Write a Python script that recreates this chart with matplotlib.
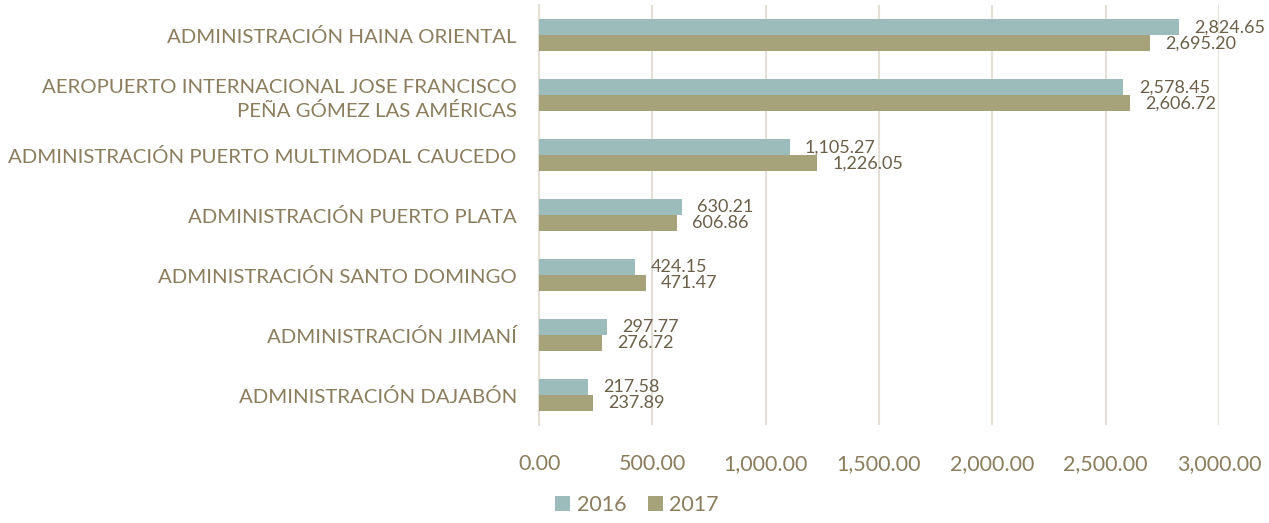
import matplotlib.pyplot as plt
import numpy as np

categories = [
    "ADMINISTRACIÓN HAINA ORIENTAL",
    "AEROPUERTO INTERNACIONAL JOSE FRANCISCO\nPEÑA GÓMEZ LAS AMÉRICAS",
    "ADMINISTRACIÓN PUERTO MULTIMODAL CAUCEDO",
    "ADMINISTRACIÓN PUERTO PLATA",
    "ADMINISTRACIÓN SANTO DOMINGO",
    "ADMINISTRACIÓN JIMANÍ",
    "ADMINISTRACIÓN DAJABÓN",
]
values_2016 = [2824.65, 2578.45, 1105.27, 630.21, 424.15, 297.77, 217.58]
values_2017 = [2695.20, 2606.72, 1226.05, 606.86, 471.47, 276.72, 237.89]
x_ticks = [0, 500, 1000, 1500, 2000, 2500, 3000]

plt.rcParams['font.family'] = ['Lato', 'DejaVu Sans']

C16 = '#9bbcbb'
C17 = '#a6a27a'
TXT = '#8b7d5e'
LBL = '#6b5f4a'
GRID = '#e4e0d8'

fig = plt.figure(figsize=(12.69, 5.23), dpi=100)
ax = fig.add_axes([0.4248, 0.1874, 0.5358, 0.8026])

n = len(categories)
y = np.arange(n)[::-1]
h = 0.267
ax.barh(y + h / 2, values_2016, height=h, color=C16, label='2016', zorder=3)
ax.barh(y - h / 2, values_2017, height=h, color=C17, label='2017', zorder=3)

for yi, v in zip(y, values_2016):
    ax.annotate(f"{v:,.2f}", (v, yi + h / 2), xytext=(11, 0), textcoords='offset points',
                va='center', ha='left', fontsize=13, color=LBL)
for yi, v in zip(y, values_2017):
    ax.annotate(f"{v:,.2f}", (v, yi - h / 2), xytext=(11, 0), textcoords='offset points',
                va='center', ha='left', fontsize=13, color=LBL)

ax.set_xlim(0, 3000)
ax.set_ylim(-0.5, n - 0.5)
ax.set_xticks(x_ticks)
ax.set_xticklabels([f"{t:,.2f}" for t in x_ticks], fontsize=15.5, color=TXT)
ax.set_yticks(y)
ax.set_yticklabels(categories, fontsize=14.7, color=TXT, linespacing=1.4)
ax.tick_params(length=0, pad=21, axis='x')
ax.tick_params(length=0, pad=16, axis='y')
ax.grid(axis='x', color=GRID, linewidth=1.5, zorder=0)
for s in ['top', 'right', 'bottom']:
    ax.spines[s].set_visible(False)
ax.spines['left'].set_color(GRID)
ax.spines['left'].set_linewidth(1.5)

fig.legend(loc='lower center', bbox_to_anchor=(0.502, -0.022), ncol=2, frameon=False,
           fontsize=15.5, labelcolor=TXT, handlelength=0.7, handleheight=0.7,
           handletextpad=0.3, columnspacing=1.0)

fig.savefig('out.png', dpi=100)
